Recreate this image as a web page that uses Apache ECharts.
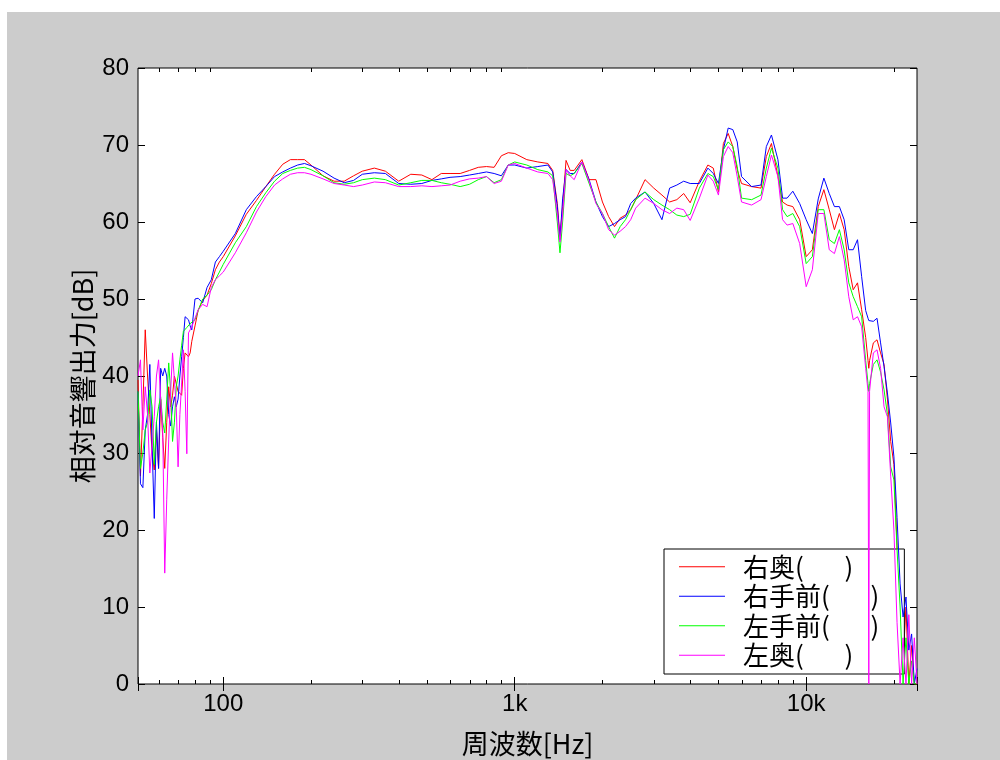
<!DOCTYPE html>
<html>
<head>
<meta charset="utf-8">
<script src="https://cdn.jsdelivr.net/npm/echarts@6/dist/echarts.min.js"></script>
<style>
  body { margin: 0; background: #fff; }
  #bg { position: absolute; left: 7px; top: 12px; width: 993px; height: 748px; background: #cccccc; }
  #chart { position: absolute; left: 0; top: 0; width: 1000px; height: 760px; }
</style>
</head>
<body>
<div id="bg"></div>
<div id="chart"></div>
<script>
// 周波数 [Hz]
const freqs = [
  51, 52, 53, 54, 55, 56, 57, 58, 59, 60, 61, 62, 63, 64, 65, 66, 67, 68, 69, 70, 71, 72, 73, 74, 75, 76, 77, 78,
  80, 82, 85, 88, 91, 94, 97,
  100, 110, 120, 130, 140, 150, 160, 170, 180, 190, 200,
  220, 240, 260, 280, 300,
  330, 360, 400, 440, 480, 520, 560, 600,
  650, 700, 750, 800, 850, 900, 950, 1000,
  1100, 1200, 1300, 1350, 1400, 1430, 1460, 1500, 1550, 1600,
  1700, 1800, 1900, 2000, 2100, 2200, 2300, 2400, 2500, 2600,
  2800, 3000, 3200, 3400, 3600, 3800, 4000,
  4300, 4600, 4800, 5000, 5200, 5400, 5600, 5800, 6000,
  6500, 7000, 7300, 7600, 8000, 8300, 8600, 9000, 9500, 10000,
  10500, 11000, 11500, 12000, 12500, 13000, 13500, 14000, 14500, 15000, 15500, 16000,
  16300, 16400, 16500,
  17000, 17500, 18000, 18500, 19000, 19500, 20000, 20500, 21000, 21500, 22000, 22500, 23000, 23500, 24000
];

// 右奥
const rightRear = [
  39.5, 27, 36, 46, 40, 35, 30, 27.8, 33, 28, 37, 32, 28, 34, 38.6, 36, 37.5, 40, 39, 38, 37.8, 37.5, 41, 43, 43, 42.5, 43, 44.5,
  46.5, 48.5, 49.8, 50.5, 52, 53.8, 54.8,
  55.5, 58.2, 61.0, 62.8, 64.6, 66.2, 67.5, 68.1, 68.1, 68.1, 67.4,
  66.0, 65.3, 65.3, 66.0, 66.6,
  67.0, 66.6, 65.3, 66.2, 66.1, 65.5, 66.3, 66.3,
  66.3, 66.7, 67.1, 67.2, 67.1, 68.6, 69.0, 68.9,
  68.1, 67.8, 67.6, 66.7, 62.4, 58.1, 62, 68.0, 66.7, 66.7,
  68.1, 65.5, 65.5, 62.6, 60.7, 59.4, 60.5, 60.9, 61.6, 62.9,
  65.5, 64.4, 63.5, 62.6, 62.9, 63.7, 62.5,
  65.3, 67.4, 67.0, 63.9, 70.2, 71.5, 69.8, 66.8, 65.0,
  64.6, 64.4, 68.5, 70.2, 65.9, 62.6, 62.2, 62.0, 60.3, 55.5,
  56.4, 62.0, 64.2, 61.6, 59.0, 61.1, 59.0, 54.2, 51.2, 52.1, 48.6, 45,
  42, 41, 42,
  44.3, 44.7, 43, 41.5, 37, 31.5, 28.5, 18, 9, 3, 10, 0, 5, 0, 0
];

// 右手前
const rightFront = [
  38, 26, 25.5, 33, 35, 41.5, 31, 21.5, 34, 28, 41, 40, 41, 40, 35, 33.5, 36, 37.3, 36, 37, 40, 42.5, 45, 47.7, 47.5, 47.3, 46.5, 46,
  50, 50.1, 49.5, 51.5, 52.5, 54.8, 55.5,
  56.2, 58.5, 61.6, 63.3, 64.6, 65.9, 66.5, 67.0, 67.4, 67.6, 67.3,
  66.6, 65.7, 65.1, 65.4, 66.2,
  66.4, 66.3, 65.0, 64.9, 65.0, 65.4, 65.6, 65.8,
  65.9, 66.1, 66.3, 66.5, 66.3, 66.0, 67.4, 67.4,
  67.0, 67.2, 67.4, 66.5, 62, 57.7, 63, 66.8, 66.3, 66.3,
  67.8, 65.5, 62.6, 60.7, 59.4, 59.8, 60.3, 60.7, 62.4, 63.1,
  63.9, 62.4, 60.3, 64.4, 64.8, 65.3, 65.0,
  65.0, 67.0, 66.3, 65.0, 69.4, 72.2, 72.0, 70.4, 65.9,
  64.6, 64.8, 69.8, 71.3, 68.1, 63.1, 63.1, 64.0, 62.4, 60.3,
  58.5, 63.0, 65.7, 63.7, 62.0, 62.0, 60.3, 56.4, 56.4, 57.7, 52.9, 48.5,
  47.5, 47.2, 47.1,
  47.1, 47.5, 44.3, 41.2, 37.8, 33.9, 29.5, 21.6, 13, 8.7, 11.3, 4.4, 6.5, 0, 2
];

// 左手前
const leftFront = [
  38, 28, 30, 33, 34, 38.2, 36, 28.5, 34, 36, 37.3, 34, 32.6, 37, 41.7, 38, 31.5, 34, 38.6, 40, 42.1, 44, 45.8, 46, 46.3, 46.4, 46.8, 47,
  47.3, 48.5, 50, 50.5, 51.2, 52.5, 53.5,
  54.5, 57.3, 59.4, 62.0, 63.8, 65.3, 66.3, 66.7, 67.0, 67.1, 66.8,
  66.0, 65.1, 64.9, 65.1, 65.5,
  65.7, 65.5, 64.8, 65.1, 65.4, 65.4, 65.1, 64.9,
  64.6, 64.9, 65.5, 65.9, 65.1, 65.5, 67.4, 67.8,
  67.4, 66.8, 66.5, 66.0, 60, 56.0, 60, 66.3, 66.0, 66.3,
  67.6, 65.0, 62.6, 61.1, 59.4, 57.9, 59.4, 60.3, 61.6, 62.9,
  63.9, 62.9, 62.2, 61.6, 60.9, 60.7, 61.0,
  64.4, 66.3, 65.9, 64.2, 69.4, 70.4, 69.8, 67.2, 63.1,
  62.9, 63.5, 67.0, 69.6, 67.0, 61.6, 60.7, 61.1, 59.4, 54.6,
  55.5, 61.6, 61.6, 57.7, 57.2, 59.0, 56.4, 52.1, 50.3, 49.0, 47.7, 42,
  39, 38, 39,
  41.5, 42.1, 40.5, 38.2, 35, 28.2, 26.5, 17.5, 10, 0, 6, 0, 3, 0, 0
];

// 左奥
const leftRear = [
  40, 42.1, 33, 38.6, 35, 27.4, 31, 34.7, 40, 42.1, 37, 33, 14.4, 24, 31.7, 38, 43, 43.2, 36, 28.2, 35, 39.1, 43.4, 38, 29.9, 45.6, 46, 46.4,
  47.5, 48.6, 49.3, 49, 51.5, 52.5, 53,
  53.5, 56, 58.6, 61.3, 63.3, 64.8, 65.6, 66.2, 66.4, 66.4, 66.2,
  65.6, 65.0, 64.8, 64.6, 64.8,
  65.2, 65.1, 64.6, 64.6, 64.7, 64.6, 64.7, 64.8,
  65.3, 65.6, 65.7, 65.9, 65.0, 65.3, 67.4, 67.6,
  67.0, 66.5, 66.3, 65.5, 61, 57.4, 61, 66.8, 66.0, 65.5,
  67.8, 65.3, 62.4, 61.1, 59.0, 58.3, 58.8, 59.4, 60.3, 61.8,
  63.1, 62.4, 61.6, 61.1, 61.8, 61.6, 60.2,
  63.1, 66.1, 65.3, 63.5, 68.5, 69.8, 69.0, 65.9, 62.6,
  62.2, 62.9, 65.9, 68.7, 65.9, 60.3, 59.6, 59.8, 57.2, 51.6,
  53.8, 61.1, 61.1, 56.4, 55.9, 58.1, 55.1, 50.3, 47.3, 47.7, 46.4, 41,
  38, 0, 38,
  43, 43.4, 41, 36, 34.7, 27, 20, 8, 0, 6, 0, 9, 0, 6, 0
];

const seriesNames = ["右奥(       )", "右手前(       )", "左手前(       )", "左奥(       )"];
const seriesColors = ["#ff0000", "#0000ff", "#00ff00", "#ff00ff"];
const xTickLabels = { 100: "100", 1000: "1k", 10000: "10k" };
const minorTicks = [60, 70, 80, 90, 200, 300, 400, 500, 600, 700, 800, 900,
  2000, 3000, 4000, 5000, 6000, 7000, 8000, 9000, 20000];

const chart = echarts.init(document.getElementById("chart"));
const allSeries = [rightRear, rightFront, leftFront, leftRear];

const numFont = "Liberation Sans";
const cjkFont = "Noto Sans CJK JP";

let series = allSeries.map((vals, i) => ({
  name: seriesNames[i],
  type: "line",
  data: freqs.map((f, j) => [f, vals[j]]),
  symbol: "none",
  color: seriesColors[i],
  lineStyle: { width: 1, color: seriesColors[i] },
  animation: false,
  z: 3 + i
}));

// 補助目盛（対数軸の 2〜9）
series.push({
  type: "custom",
  silent: true,
  animation: false,
  clip: false,
  z: 10,
  data: minorTicks.map(f => [f, 0]),
  renderItem: (params, api) => {
    const p = api.coord([api.value(0), 0]);
    const x = Math.round(p[0]) + 0.5;
    const top = params.coordSys.y;
    const bottom = params.coordSys.y + params.coordSys.height;
    return {
      type: "group",
      children: [
        { type: "line", shape: { x1: x, y1: bottom, x2: x, y2: bottom - 4 }, style: { stroke: "#000", lineWidth: 1 } },
        { type: "line", shape: { x1: x, y1: top, x2: x, y2: top + 4 }, style: { stroke: "#000", lineWidth: 1 } }
      ]
    };
  }
});

const xBase = {
  type: "log",
  min: 51,
  max: 24000,
  axisLine: { show: false },
  splitLine: { show: false },
  axisTick: { inside: true, length: 7, lineStyle: { color: "#000", width: 1 } }
};

const yBase = {
  type: "value",
  min: 0,
  max: 80,
  interval: 10,
  axisLine: { show: false },
  splitLine: { show: false },
  axisTick: { inside: true, length: 7, lineStyle: { color: "#000", width: 1 } }
};

const option = {
  backgroundColor: "transparent",
  animation: false,
  grid: {
    left: 138, top: 68, right: 83, bottom: 76,
    show: true, backgroundColor: "#fff", borderColor: "#000", borderWidth: 1,
    outerBoundsMode: "none"
  },
  legend: {
    orient: "vertical",
    left: 664,
    top: 549,
    data: seriesNames,
    selectedMode: false,
    backgroundColor: "#fff",
    borderColor: "#000",
    borderWidth: 1,
    borderRadius: 0,
    padding: [3, 25, 4, 15],
    icon: "rect",
    itemWidth: 46,
    itemHeight: 1,
    itemGap: 0,
    textStyle: { color: "#000", fontFamily: cjkFont, fontSize: 26, lineHeight: 29.5, padding: [0, 0, 0, 13] }
  },
  xAxis: [
    Object.assign({}, xBase, {
      position: "bottom",
      name: "周波数[Hz]",
      nameLocation: "middle",
      nameGap: 46,
      nameMoveOverlap: false,
      nameTextStyle: { color: "#000", fontFamily: cjkFont, fontSize: 27 },
      axisLabel: {
        color: "#000", fontFamily: numFont, fontSize: 24, margin: 8,
        formatter: v => xTickLabels[Math.round(v)] || ""
      }
    }),
    Object.assign({}, xBase, { position: "top", axisLabel: { show: false } })
  ],
  yAxis: [
    Object.assign({}, yBase, {
      position: "left",
      name: "相対音響出力[dB]",
      nameLocation: "middle",
      nameGap: 42,
      nameMoveOverlap: false,
      nameTextStyle: { color: "#000", fontFamily: cjkFont, fontSize: 27 },
      axisLabel: { color: "#000", fontFamily: numFont, fontSize: 24, margin: 9 }
    }),
    Object.assign({}, yBase, { position: "right", axisLabel: { show: false } })
  ],
  series: series
};

chart.setOption(option);
</script>
</body>
</html>
